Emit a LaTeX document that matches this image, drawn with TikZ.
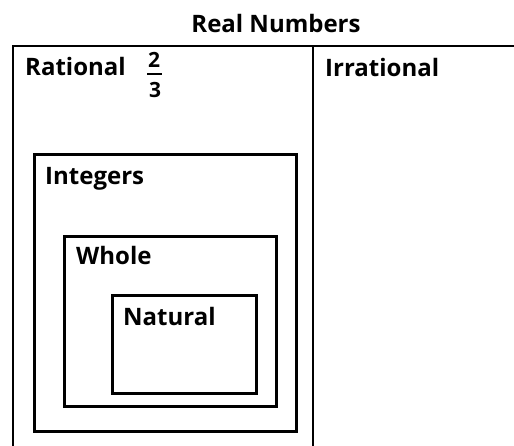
\documentclass[tikz,border=0pt]{standalone}
\usepackage{fontspec}
\setmainfont{Open Sans}
\begin{document}
\begin{tikzpicture}[x=1pt,y=-1pt,
  frame/.style={draw=black,line width=2.6pt},
  setbox/.style={draw=black,line width=2.6pt,inner sep=0pt,anchor=north west},
  lbl/.style={font=\fontsize{24}{28}\selectfont\bfseries,inner sep=0pt,anchor=base west},
  digit/.style={font=\fontsize{21}{24}\selectfont\bfseries,inner sep=0pt,anchor=base}]
\useasboundingbox (0,0) rectangle (514,446);
% outer frame
\coordinate (tl) at (13,46);
\coordinate (tr) at (514,46);
\coordinate (bl) at (13,446);
\coordinate (dt) at (313,46);
\coordinate (db) at (313,446);
\draw[frame] (bl) -- (tl) -- (tr);
\draw[frame] (dt) -- (db);
\node[lbl,anchor=base] (real) at (276,33) {Real Numbers};
\node[lbl] (rat) at (25,76) {Rational};
\node[digit] (num) at (154,68) {2};
\node[digit] (den) at (155,98) {3};
\coordinate (barl) at (147,74);
\coordinate (barr) at (162,74);
\draw[line width=1.6pt] (barl) -- (barr);
\node[lbl] (irr) at (325,77) {Irrational};
% nested boxes
\node[setbox,minimum width=262pt,minimum height=277pt] (int) at (33,153) {};
\node[lbl] (intl) at (45,185) {Integers};
\node[setbox,minimum width=212pt,minimum height=170pt] (whole) at (63,235) {};
\node[lbl] (wholel) at (76,265) {Whole};
\node[setbox,minimum width=144pt,minimum height=98pt] (nat) at (111,294) {};
\node[lbl] (natl) at (123,325) {Natural};
\end{tikzpicture}
\end{document}
